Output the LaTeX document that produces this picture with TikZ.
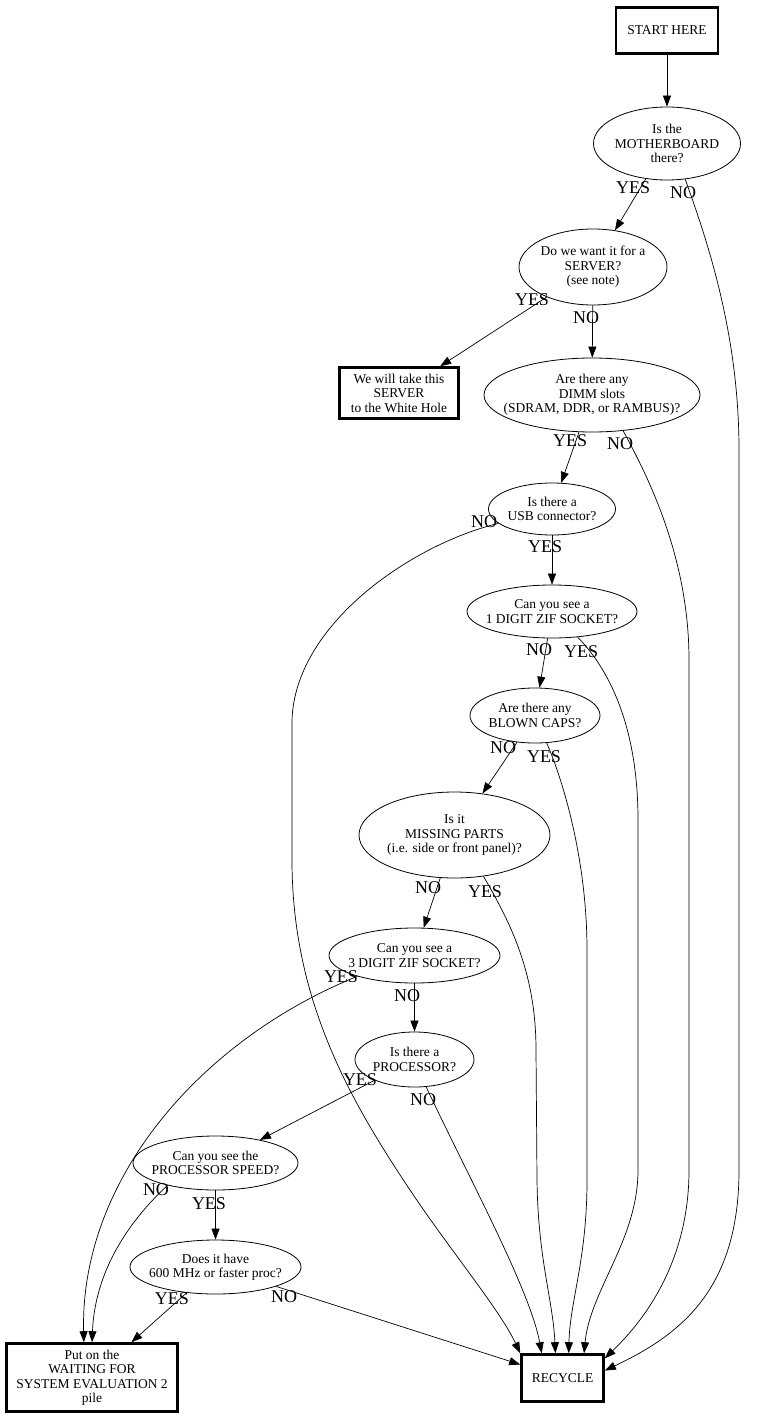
\documentclass[tikz,border=0pt]{standalone}
\usepackage{fontspec}
\setmainfont{Liberation Serif}
\usetikzlibrary{shapes.geometric,arrows.meta}
\newcommand\dgqfont{\fontsize{13.5}{14.5}\selectfont}
\newcommand\dglfont{\fontsize{18}{20}\selectfont}
\begin{document}
\begin{tikzpicture}[x=1pt,y=-1pt,
  q/.style={ellipse,draw,line width=0.8pt,inner xsep=-35pt,inner ysep=-12pt,align=center,font=\dgqfont},
  bx/.style={rectangle,draw,line width=2.6pt,inner sep=2pt,align=center,font=\dgqfont},
  lab/.style={inner sep=0pt,font=\dglfont},
  conn/.style={draw,line width=0.7pt,-{Triangle[length=11pt,width=8pt]}}
]
\fill[white] (0,0) rectangle (760,1420);
\useasboundingbox (0,0) rectangle (760,1420);

\node[bx,minimum width=102pt,minimum height=46pt] (start) at (667,30.5) {START HERE};
\node[q,minimum width=147pt,minimum height=73pt] (mb) at (667,143.5) {Is the\\MOTHERBOARD\\there?};
\node[q,minimum width=148pt,minimum height=76pt] (srv) at (593,267) {Do we want it for a\\SERVER?\\(see note)};
\node[bx,minimum width=119pt,minimum height=51pt] (wh) at (399,393) {We will take this\\SERVER\\to the White Hole};
\node[q,minimum width=216pt,minimum height=74pt] (dimm) at (592,395) {Are there any\\DIMM slots\\(SDRAM, DDR, or RAMBUS)?};
\node[q,minimum width=127pt,minimum height=52pt] (usb) at (552,509) {Is there a\\USB connector?};
\node[q,minimum width=170pt,minimum height=53pt] (dig1) at (552,611.5) {Can you see a\\1 DIGIT ZIF SOCKET?};
\node[q,minimum width=130pt,minimum height=55pt] (blown) at (535,715.5) {Are there any\\BLOWN CAPS?};
\node[q,minimum width=191pt,minimum height=86pt] (miss) at (454.5,835) {Is it\\MISSING PARTS\\(i.e. side or front panel)?};
\node[q,minimum width=171pt,minimum height=55pt] (dig3) at (414.5,955.5) {Can you see a\\3 DIGIT ZIF SOCKET?};
\node[q,minimum width=119pt,minimum height=55pt] (proc) at (414.5,1059.5) {Is there a\\PROCESSOR?};
\node[q,minimum width=165pt,minimum height=54pt] (speed) at (215.5,1163) {Can you see the\\PROCESSOR SPEED?};
\node[q,minimum width=171pt,minimum height=54pt] (mhz) at (215.5,1267) {Does it have\\600 MHz or faster proc?};
\node[bx,minimum width=171pt,minimum height=68pt] (wait) at (92,1377.5) {Put on the\\WAITING FOR\\SYSTEM EVALUATION 2\\pile};
\node[bx,minimum width=82pt,minimum height=47pt] (rec) at (562.5,1378) {RECYCLE};

% straight connectors
\draw[conn] (start) -- (mb);
\draw[conn] (mb) -- (srv);
\draw[conn] (srv) -- (wh);
\draw[conn] (srv) -- (dimm);
\draw[conn] (dimm) -- (usb);
\draw[conn] (usb) -- (dig1);
\draw[conn] (dig1) -- (blown);
\draw[conn] (blown) -- (miss);
\draw[conn] (miss) -- (dig3);
\draw[conn] (dig3) -- (proc);
\draw[conn] (proc) -- (speed);
\draw[conn] (speed) -- (mhz);
\draw[conn] (mhz) -- (wait);
\draw[conn] (mhz) -- (rec);

% curved connectors
\draw[conn] (mb.-63) .. controls (705,235) and (739,330) .. (739,450) -- (739,1170) .. controls (739,1290) and (680,1335) .. (rec.10);
\draw[conn] (dimm.-49) .. controls (650,480) and (689,560) .. (689,660) -- (689,1170) .. controls (689,1250) and (655,1310) .. (rec.25);
\draw[conn] (usb.-165) .. controls (410,545) and (295,625) .. (292,720) -- (292,860) .. controls (292,1000) and (350,1100) .. (410,1190) .. controls (450,1250) and (500,1310) .. (rec.north west);
\draw[conn] (dig1.-45) .. controls (605,665) and (638,720) .. (638,820) -- (638,1170) .. controls (638,1240) and (590,1290) .. (rec.49);
\draw[conn] (blown.-67) .. controls (563,780) and (587,860) .. (587,950) -- (587,1180) .. controls (587,1260) and (570,1300) .. (rec.76);
\draw[conn] (miss.-55) .. controls (512,925) and (536,975) .. (536,1050) -- (537,1180) .. controls (538,1260) and (553,1300) .. (rec.106);
\draw[conn] (proc.-67) .. controls (470,1180) and (530,1290) .. (rec.130);
\draw[conn] (dig3.-160) .. controls (200,1040) and (80,1180) .. (wait.103);
\draw[conn] (speed.-155) .. controls (130,1220) and (95,1270) .. (wait.north);

% labels
\node[lab] (l1) at (633,188) {YES};
\node[lab] (l2) at (683,193) {NO};
\node[lab] (l3) at (532,300) {YES};
\node[lab] (l4) at (586,318) {NO};
\node[lab] (l5) at (570,441) {YES};
\node[lab] (l6) at (620,444) {NO};
\node[lab] (l7) at (484,522) {NO};
\node[lab] (l8) at (545,547) {YES};
\node[lab] (l9) at (539,650) {NO};
\node[lab] (l10) at (581,652) {YES};
\node[lab] (l11) at (503,748) {NO};
\node[lab] (l12) at (544,757) {YES};
\node[lab] (l13) at (428,888) {NO};
\node[lab] (l14) at (485,892) {YES};
\node[lab] (l15) at (341,977) {YES};
\node[lab] (l16) at (407,996) {NO};
\node[lab] (l17) at (360,1080) {YES};
\node[lab] (l18) at (423,1100) {NO};
\node[lab] (l19) at (156,1190) {NO};
\node[lab] (l20) at (209,1204) {YES};
\node[lab] (l21) at (172,1299) {YES};
\node[lab] (l22) at (284,1297) {NO};
\end{tikzpicture}
\end{document}
